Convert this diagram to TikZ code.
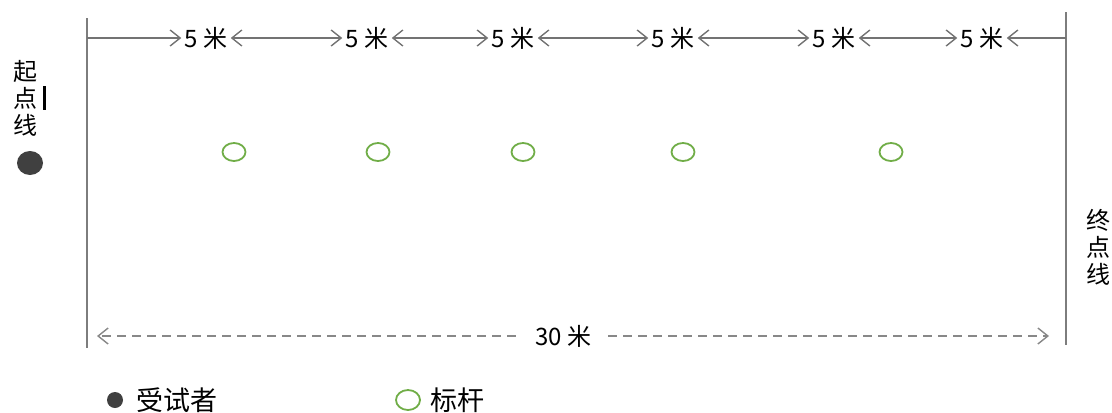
\documentclass[tikz,border=0pt]{standalone}
\usepackage{fontspec}
\usepackage{xcolor}
\usepackage{tikz}
\usetikzlibrary{arrows.meta,shapes.geometric}
\newfontfamily\cjk{Noto Sans CJK SC}

\definecolor{linegray}{RGB}{125,125,125}
\definecolor{arrowgray}{RGB}{115,115,115}
\definecolor{polegreen}{RGB}{112,173,71}
\definecolor{dotgray}{RGB}{64,64,64}

\tikzset{
	bound/.style={linegray,line width=1pt},
	seg/.style={font=\cjk\fontsize{12}{14}\selectfont,inner xsep=1.5pt,inner ysep=1pt},
	gap/.style={arrowgray,line width=0.7pt},
	tip/.tip={Straight Barb[length=5pt,width=8pt]},
	pole/.style={ellipse,draw=polegreen,line width=0.9pt,minimum width=11.5pt,minimum height=9pt,inner sep=0pt},
	runner/.style={ellipse,fill=dotgray,minimum width=13pt,minimum height=12pt,inner sep=0pt},
	side/.style={font=\cjk\fontsize{12}{13.5}\selectfont,align=center,inner sep=0pt},
	total/.style={arrowgray!85,line width=0.7pt,dash pattern=on 4.5pt off 3pt},
	key/.style={font=\cjk\fontsize{13.5}{15}\selectfont,anchor=west,inner sep=0pt}
}

\begin{document}
\begin{tikzpicture}[x=0.5pt,y=-0.5pt]
	\useasboundingbox (0,0) rectangle (1112,412);

	% start and finish lines
	\coordinate (st) at (87,18);
	\coordinate (sb) at (87,348);
	\coordinate (ft) at (1066,12);
	\coordinate (fb) at (1066,345);
	\draw[bound] (st) -- (sb);
	\draw[bound] (ft) -- (fb);

	\node[side] (startlbl) at (25,98) {起\\点\\线};
	\draw[line width=1.5pt] (44,86) -- (44,110);
	\node[side] (finishlbl) at (1098,247) {终\\点\\线};

	% 5 m segments
	\coordinate (a0) at (87,38);
	\coordinate (a6) at (1066,38);
	\node[seg] (m1) at (206,38) {5 米};
	\node[seg] (m2) at (367,38) {5 米};
	\node[seg] (m3) at (513,38) {5 米};
	\node[seg] (m4) at (673,38) {5 米};
	\node[seg] (m5) at (834,38) {5 米};
	\node[seg] (m6) at (982,38) {5 米};
	\draw[gap,-tip] (a0) -- (m1);
	\draw[gap,tip-tip] (m1) -- (m2);
	\draw[gap,tip-tip] (m2) -- (m3);
	\draw[gap,tip-tip] (m3) -- (m4);
	\draw[gap,tip-tip] (m4) -- (m5);
	\draw[gap,tip-tip] (m5) -- (m6);
	\draw[gap,tip-] (m6) -- (a6);

	% runner and poles
	\node[runner] (runner) at (30,163) {};
	\node[pole] (p1) at (234,152) {};
	\node[pole] (p2) at (378,152) {};
	\node[pole] (p3) at (523,152) {};
	\node[pole] (p4) at (683,152) {};
	\node[pole] (p5) at (891,152) {};

	% 30 m
	\node[seg,inner xsep=6pt] (d30) at (563,336) {30 米};
	\coordinate (dl) at (97,336);
	\coordinate (dr) at (1049,336);
	\draw[total,-tip,shorten <=3.5pt] (d30.west) -- (dl);
	\draw[total,-tip,shorten <=2.5pt] (d30.east) -- (dr);

	% legend
	\node[runner,minimum width=8pt,minimum height=8pt] (kdot) at (115,400) {};
	\node[key] (ktext) at (136,400) {受试者};
	\node[pole,minimum width=12pt,minimum height=10pt] (kpole) at (408,400) {};
	\node[key] (kpoletext) at (430,400) {标杆};
\end{tikzpicture}
\end{document}
